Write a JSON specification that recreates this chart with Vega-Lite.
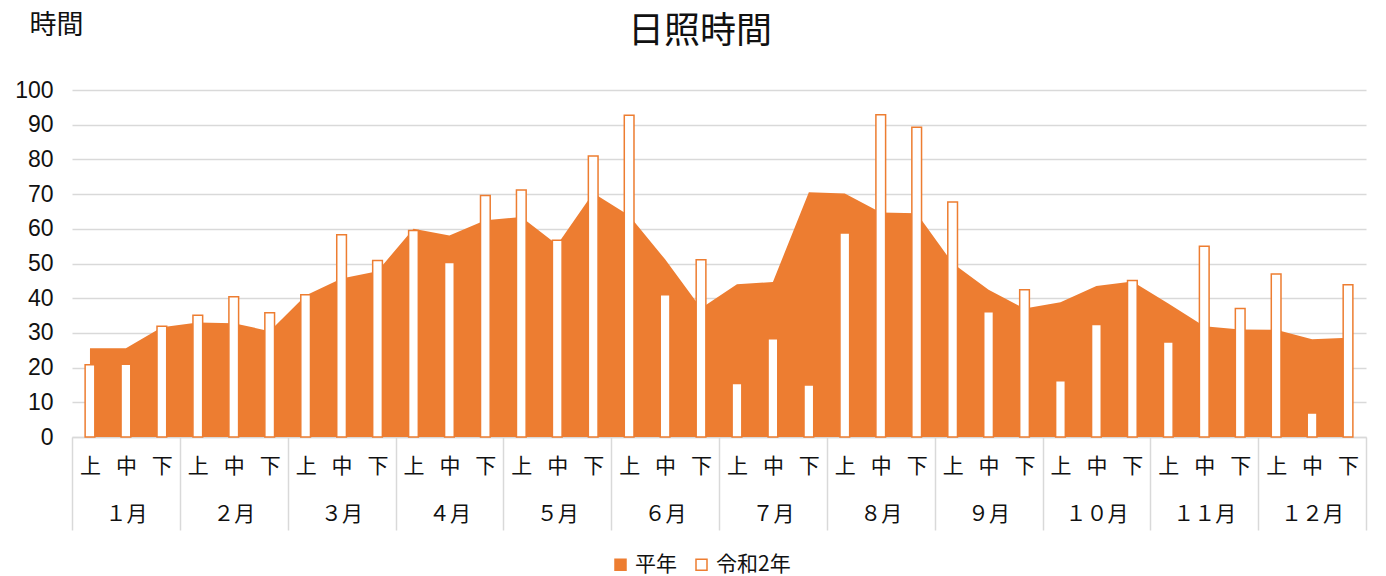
{
  "$schema": "https://vega.github.io/schema/vega-lite/v6.json",
  "width": 1294,
  "height": 347,
  "autosize": {"type": "none"},
  "padding": {"left": 72, "top": 90, "right": 20, "bottom": 139},
  "background": "#ffffff",
  "title": {
    "text": "日照時間",
    "font": "Noto Sans CJK JP",
    "fontSize": 36,
    "fontWeight": "normal",
    "color": "#111111",
    "anchor": "middle",
    "frame": "group",
    "dx": -19,
    "offset": -40
  },
  "data": {
    "values": [
      {"i": 0, "s": "平年", "v": 25.6}, {"i": 1, "s": "平年", "v": 25.6}, {"i": 2, "s": "平年", "v": 31.6},
      {"i": 3, "s": "平年", "v": 33.0}, {"i": 4, "s": "平年", "v": 32.8}, {"i": 5, "s": "平年", "v": 30.5},
      {"i": 6, "s": "平年", "v": 40.8}, {"i": 7, "s": "平年", "v": 45.7}, {"i": 8, "s": "平年", "v": 47.8},
      {"i": 9, "s": "平年", "v": 60.0}, {"i": 10, "s": "平年", "v": 58.1}, {"i": 11, "s": "平年", "v": 62.5},
      {"i": 12, "s": "平年", "v": 63.4}, {"i": 13, "s": "平年", "v": 55.4}, {"i": 14, "s": "平年", "v": 70.3},
      {"i": 15, "s": "平年", "v": 63.8}, {"i": 16, "s": "平年", "v": 51.2}, {"i": 17, "s": "平年", "v": 37.1},
      {"i": 18, "s": "平年", "v": 44.0}, {"i": 19, "s": "平年", "v": 44.7}, {"i": 20, "s": "平年", "v": 70.5},
      {"i": 21, "s": "平年", "v": 70.2}, {"i": 22, "s": "平年", "v": 64.7}, {"i": 23, "s": "平年", "v": 64.5},
      {"i": 24, "s": "平年", "v": 50.1}, {"i": 25, "s": "平年", "v": 42.4}, {"i": 26, "s": "平年", "v": 37.0},
      {"i": 27, "s": "平年", "v": 38.8}, {"i": 28, "s": "平年", "v": 43.5}, {"i": 29, "s": "平年", "v": 44.8},
      {"i": 30, "s": "平年", "v": 38.5}, {"i": 31, "s": "平年", "v": 31.9}, {"i": 32, "s": "平年", "v": 31.0},
      {"i": 33, "s": "平年", "v": 30.9}, {"i": 34, "s": "平年", "v": 28.2}, {"i": 35, "s": "平年", "v": 28.6},
      {"i": 0, "s": "令和2年", "v": 20.8}, {"i": 1, "s": "令和2年", "v": 21.0}, {"i": 2, "s": "令和2年", "v": 31.9},
      {"i": 3, "s": "令和2年", "v": 35.1}, {"i": 4, "s": "令和2年", "v": 40.4}, {"i": 5, "s": "令和2年", "v": 35.8},
      {"i": 6, "s": "令和2年", "v": 41.0}, {"i": 7, "s": "令和2年", "v": 58.3}, {"i": 8, "s": "令和2年", "v": 50.9},
      {"i": 9, "s": "令和2年", "v": 59.5}, {"i": 10, "s": "令和2年", "v": 50.3}, {"i": 11, "s": "令和2年", "v": 69.6},
      {"i": 12, "s": "令和2年", "v": 71.2}, {"i": 13, "s": "令和2年", "v": 56.7}, {"i": 14, "s": "令和2年", "v": 81.0},
      {"i": 15, "s": "令和2年", "v": 92.7}, {"i": 16, "s": "令和2年", "v": 41.0}, {"i": 17, "s": "令和2年", "v": 51.1},
      {"i": 18, "s": "令和2年", "v": 15.4}, {"i": 19, "s": "令和2年", "v": 28.3}, {"i": 20, "s": "令和2年", "v": 15.0},
      {"i": 21, "s": "令和2年", "v": 58.8}, {"i": 22, "s": "令和2年", "v": 92.9}, {"i": 23, "s": "令和2年", "v": 89.3},
      {"i": 24, "s": "令和2年", "v": 67.7}, {"i": 25, "s": "令和2年", "v": 36.1}, {"i": 26, "s": "令和2年", "v": 42.4},
      {"i": 27, "s": "令和2年", "v": 16.2}, {"i": 28, "s": "令和2年", "v": 32.4}, {"i": 29, "s": "令和2年", "v": 45.1},
      {"i": 30, "s": "令和2年", "v": 27.4}, {"i": 31, "s": "令和2年", "v": 55.0}, {"i": 32, "s": "令和2年", "v": 37.0},
      {"i": 33, "s": "令和2年", "v": 47.0}, {"i": 34, "s": "令和2年", "v": 6.9}, {"i": 35, "s": "令和2年", "v": 43.9}
    ]
  },
  "encoding": {
    "x": {
      "field": "i",
      "type": "ordinal",
      "scale": {"paddingInner": 0, "paddingOuter": 0},
      "axis": {
        "title": null,
        "labelAngle": 0,
        "labelExpr": "datum.extra ? '' : (datum.value % 3 == 0 ? '上' : (datum.value % 3 == 1 ? ['中', ['１月','２月','３月','４月','５月','６月','７月','８月','９月','１０月','１１月','１２月'][floor(datum.value / 3)]] : '下'))",
        "labelBaseline": "top",
        "labelLineHeight": 48,
        "labelFont": "Noto Sans CJK JP",
        "labelFontSize": 21,
        "labelColor": "#111111",
        "labelPadding": -75,
        "labelOverlap": false,
        "labelBound": false,
        "labelFlush": false,
        "tickBand": "extent",
        "tickSize": 93,
        "tickWidth": 1.5,
        "tickColor": {"condition": {"test": "datum.extra || datum.value % 3 == 2", "value": "#d9d9d9"}, "value": "rgba(255,255,255,0)"},
        "domainColor": "#d9d9d9",
        "domainWidth": 1.5,
        "grid": false
      }
    },
    "y": {
      "field": "v",
      "type": "quantitative",
      "scale": {"domain": [0, 100], "nice": false},
      "axis": {
        "title": "時間",
        "titleAngle": 0,
        "titleX": -43,
        "titleY": -65,
        "titleAlign": "left",
        "titleBaseline": "middle",
        "titleFont": "Noto Sans CJK JP",
        "titleFontSize": 27,
        "titleFontWeight": "normal",
        "titleColor": "#111111",
        "values": [0, 10, 20, 30, 40, 50, 60, 70, 80, 90, 100],
        "domain": false,
        "ticks": false,
        "labelPadding": 19,
        "labelFont": "Liberation Sans",
        "labelFontSize": 23,
        "labelColor": "#111111",
        "gridColor": "#d9d9d9",
        "gridWidth": 1.5
      }
    },
    "fill": {
      "field": "s",
      "type": "nominal",
      "scale": {"domain": ["平年", "令和2年"], "range": ["#ED7D31", "#FFFFFF"]},
      "legend": {
        "title": null,
        "orient": "none",
        "legendX": 538,
        "legendY": 464,
        "direction": "horizontal",
        "symbolType": "square",
        "symbolSize": 121,
        "symbolStrokeColor": "#ED7D31",
        "symbolStrokeWidth": 1.5,
        "labelFont": "Noto Sans CJK JP",
        "labelFontSize": 21,
        "labelColor": "#111111",
        "columnPadding": 14,
        "labelOffset": 4
      }
    }
  },
  "layer": [
    {
      "transform": [{"filter": "datum.s == '平年'"}],
      "mark": {"type": "area", "opacity": 1}
    },
    {
      "transform": [{"filter": "datum.s == '令和2年'"}],
      "mark": {"type": "bar", "width": {"band": 0.27}, "stroke": "#ED7D31", "strokeWidth": 1.5}
    }
  ],
  "config": {
    "view": {"stroke": null}
  }
}
